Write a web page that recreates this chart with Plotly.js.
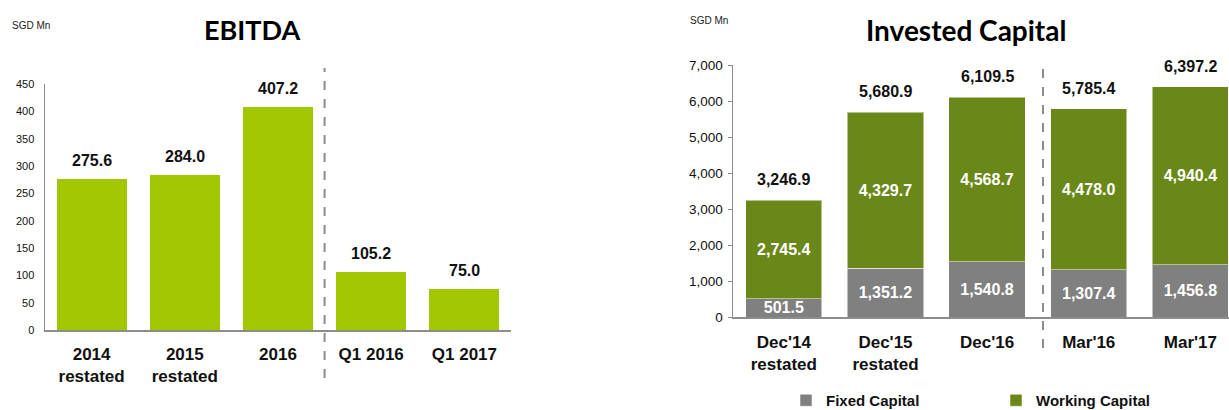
<!DOCTYPE html>
<html><head><meta charset="utf-8">
<script src="https://cdn.plot.ly/plotly-3.0.1.min.js"></script>
<style>html,body{margin:0;padding:0;background:#fff;}#chart{width:1229px;height:410px;}</style>
</head><body><div id="chart"></div>
<script>
// ---- data ----
const ebitdaCategories = ["2014<br>restated", "2015<br>restated", "2016", "Q1 2016", "Q1 2017"];
const ebitdaValues = [275.6, 284.0, 407.2, 105.2, 75.0];
const capCategories = ["Dec'14<br>restated", "Dec'15<br>restated", "Dec'16", "Mar'16", "Mar'17"];
const fixedCapital = [501.5, 1351.2, 1540.8, 1307.4, 1456.8];
const workingCapital = [2745.4, 4329.7, 4568.7, 4478.0, 4940.4];
const capTotals = [3246.9, 5680.9, 6109.5, 5785.4, 6397.2];
const ebitdaTicks = [0, 50, 100, 150, 200, 250, 300, 350, 400, 450];
const capTicks = [0, 1000, 2000, 3000, 4000, 5000, 6000, 7000];

// ---- styles ----
const W = 1229, H = 410;
const FONT = "Liberation Sans, Arial, sans-serif";
const TITLE_FONT = "Lato, 'Open Sans', sans-serif";
const LIGHT_GREEN = "#A0C700";
const OLIVE = "#6A871A";
const GREY = "#808080";
const AXIS_GREY = "#8c8c8c";
const fmt1 = v => v.toLocaleString("en-US", {minimumFractionDigits: 1, maximumFractionDigits: 1});
const px = (a) => a / W;
const py = (b) => (H - b) / H;

const traces = [
  {
    type: "bar", x: ebitdaCategories, y: ebitdaValues, xaxis: "x", yaxis: "y",
    marker: {color: LIGHT_GREEN}, showlegend: false, hoverinfo: "skip"
  },
  {
    type: "bar", name: "Fixed Capital", x: capCategories, y: fixedCapital, xaxis: "x2", yaxis: "y2",
    marker: {color: GREY, line: {color: "rgba(255,255,255,0.5)", width: 1}},
    text: fixedCapital.map(fmt1), textposition: "inside", insidetextanchor: "middle",
    textangle: 0, constraintext: "none",
    textfont: {family: FONT, size: 16, color: "#ffffff", weight: "bold"}, hoverinfo: "skip"
  },
  {
    type: "bar", name: "Working Capital", x: capCategories, y: workingCapital, xaxis: "x2", yaxis: "y2",
    marker: {color: OLIVE, line: {color: "rgba(255,255,255,0.5)", width: 1}},
    text: workingCapital.map(fmt1), textposition: "inside", insidetextanchor: "middle",
    textangle: 0, constraintext: "none",
    textfont: {family: FONT, size: 16, color: "#ffffff", weight: "bold"}, hoverinfo: "skip"
  }
];

const annotations = [];
ebitdaValues.forEach((v, i) => annotations.push({
  x: i, y: v, xref: "x", yref: "y", text: fmt1(v),
  showarrow: false, yanchor: "bottom", yshift: 8,
  font: {family: FONT, size: 16, color: "#111", weight: "bold"}
}));
capTotals.forEach((v, i) => annotations.push({
  x: i, y: v, xref: "x2", yref: "y2", text: fmt1(v),
  showarrow: false, yanchor: "bottom", yshift: 10,
  font: {family: FONT, size: 16, color: "#111", weight: "bold"}
}));
annotations.push(
  {text: "EBITDA", xref: "paper", yref: "paper", x: px(252), y: py(30), xanchor: "center", yanchor: "middle",
   showarrow: false, font: {family: TITLE_FONT, size: 27, color: "#000", weight: "bold"}},
  {text: "Invested Capital", xref: "paper", yref: "paper", x: px(966), y: py(30), xanchor: "center", yanchor: "middle",
   showarrow: false, font: {family: TITLE_FONT, size: 28, color: "#000", weight: "bold"}},
  {text: "SGD Mn", xref: "paper", yref: "paper", x: px(10), y: py(25), xanchor: "left", yanchor: "middle",
   showarrow: false, font: {family: FONT, size: 10, color: "#222"}},
  {text: "SGD Mn", xref: "paper", yref: "paper", x: px(688), y: py(20), xanchor: "left", yanchor: "middle",
   showarrow: false, font: {family: FONT, size: 10, color: "#222"}}
);

const catFont = {family: FONT, size: 17, color: "#111", weight: "bold"};
const layout = {
  width: W, height: H,
  margin: {l: 0, r: 0, t: 0, b: 0, autoexpand: false},
  paper_bgcolor: "#fff", plot_bgcolor: "#fff",
  barmode: "stack",
  showlegend: true,
  legend: {orientation: "h", traceorder: "normal", x: px(786), xanchor: "left", y: py(384), yanchor: "top",
           font: {family: FONT, size: 15, color: "#111", weight: "bold"},
           entrywidth: 165, entrywidthmode: "pixels", itemwidth: 30},
  xaxis: {domain: [px(45), px(511)], anchor: "y", type: "category", range: [-0.5, 4.5], automargin: false,
          showline: true, linecolor: AXIS_GREY, linewidth: 1.5, ticks: "", showgrid: false,
          ticklabelstandoff: 8, tickfont: catFont, fixedrange: true},
  yaxis: {domain: [py(330), py(84)], anchor: "x", range: [0, 450], tickvals: ebitdaTicks, automargin: false,
          showline: true, linecolor: AXIS_GREY, linewidth: 1.5, ticks: "", showgrid: false, zeroline: false,
          ticklabelstandoff: 7, tickfont: {family: FONT, size: 11, color: "#111"}, fixedrange: true},
  xaxis2: {domain: [px(733), 1], anchor: "y2", type: "category", range: [-0.5, 4.38], automargin: false,
           showline: true, linecolor: AXIS_GREY, linewidth: 1.5, ticks: "", showgrid: false,
           ticklabelstandoff: 9, tickfont: catFont, fixedrange: true},
  yaxis2: {domain: [py(317), py(65)], anchor: "x2", range: [0, 7000], tickvals: capTicks, automargin: false,
           tickformat: ",", showline: true, linecolor: AXIS_GREY, linewidth: 1.5,
           ticks: "outside", ticklen: 4, tickcolor: AXIS_GREY, showgrid: false, zeroline: false,
           ticklabelstandoff: 2, tickfont: {family: FONT, size: 13.5, color: "#111"}, fixedrange: true},
  bargap: 0.25,
  annotations: annotations,
  shapes: [
    {type: "line", xref: "x", yref: "paper", x0: 2.5, x1: 2.5, y0: py(378), y1: py(68),
     line: {color: AXIS_GREY, width: 2, dash: "dash"}},
    {type: "line", xref: "x2", yref: "paper", x0: 2.55, x1: 2.55, y0: py(348), y1: py(63),
     line: {color: AXIS_GREY, width: 2, dash: "dash"}}
  ]
};

Plotly.newPlot("chart", traces, layout, {displayModeBar: false, staticPlot: true});
</script>
</body></html>
